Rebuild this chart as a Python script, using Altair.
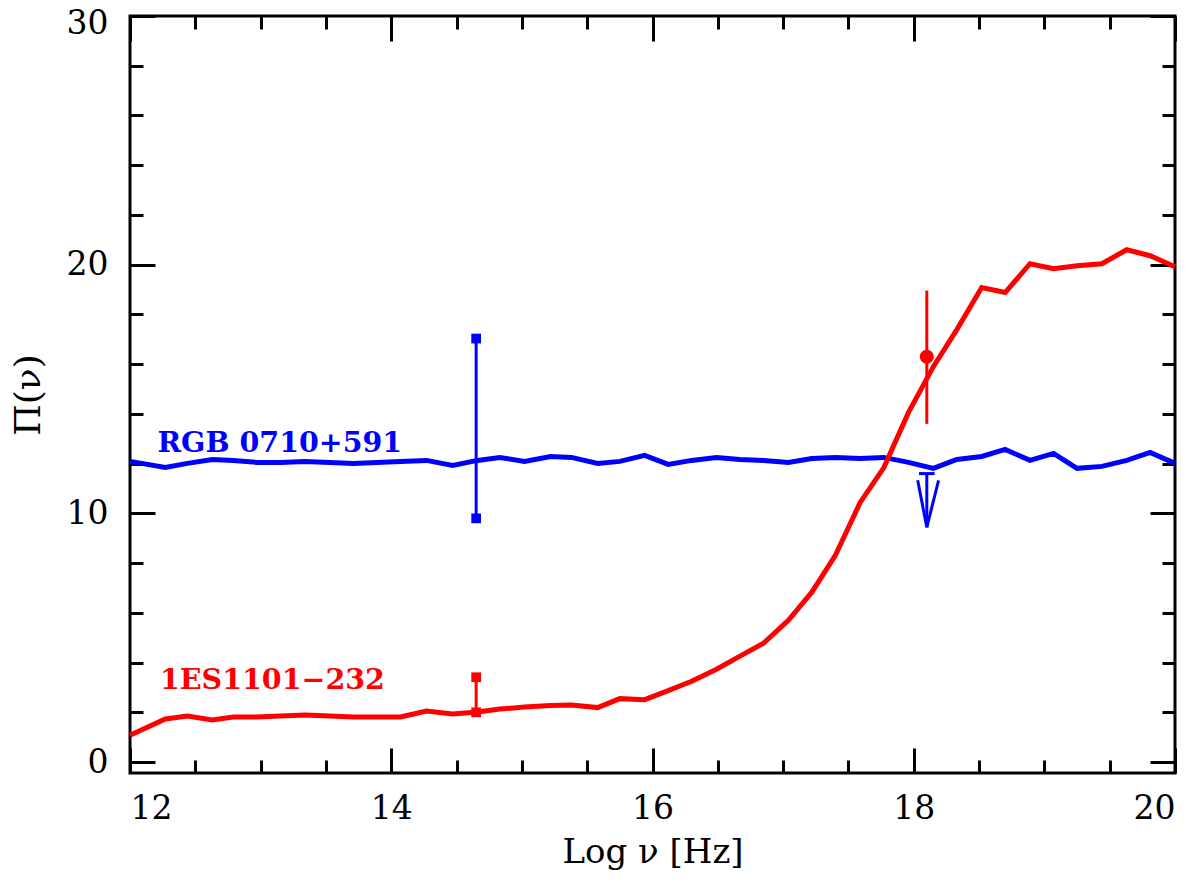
import altair as alt
import pandas as pd

# frequency grid (log nu)
log_nu = [12.00, 12.27, 12.44, 12.63, 12.79, 12.97, 13.15, 13.34, 13.53, 13.71,
          13.89, 14.07, 14.27, 14.47, 14.66, 14.83, 15.02, 15.22, 15.38, 15.58,
          15.75, 15.94, 16.12, 16.30, 16.49, 16.67, 16.85, 17.04, 17.22, 17.40,
          17.59, 17.77, 17.96, 18.15, 18.33, 18.52, 18.70, 18.89, 19.07, 19.25,
          19.44, 19.63, 19.81, 20.00]

# RGB 0710+591 polarization
pi_rgb = [12.09, 11.85, 12.01, 12.17, 12.13, 12.05, 12.05, 12.09, 12.05, 12.01,
          12.05, 12.09, 12.13, 11.93, 12.13, 12.25, 12.09, 12.29, 12.25, 12.01,
          12.09, 12.33, 11.97, 12.13, 12.25, 12.17, 12.13, 12.05, 12.21, 12.25,
          12.21, 12.25, 12.05, 11.81, 12.17, 12.29, 12.57, 12.13, 12.41, 11.81,
          11.89, 12.13, 12.45, 12.01]

# 1ES1101-232 polarization
pi_1es = [1.08, 1.73, 1.85, 1.69, 1.81, 1.81, 1.85, 1.89, 1.85, 1.81,
          1.81, 1.81, 2.05, 1.93, 2.01, 2.13, 2.21, 2.27, 2.29, 2.19,
          2.55, 2.51, 2.87, 3.25, 3.73, 4.26, 4.78, 5.70, 6.83, 8.31,
          10.44, 11.83, 14.06, 15.90, 17.39, 19.08, 18.88, 20.04, 19.84, 19.96,
          20.04, 20.60, 20.36, 19.92]

# optical observed ranges (square-capped bars)
opt_x = [14.65, 14.65]
opt_lo = [9.8, 2.0]
opt_hi = [17.03, 3.41]
opt_src = ["RGB 0710+591", "1ES1101-232"]

# X-ray measurement of 1ES1101-232
xr_x = [18.1]
xr_y = [16.3]
xr_lo = [13.6]
xr_hi = [18.96]

# X-ray upper limit of RGB 0710+591 (bar, shaft and open arrow head)
ul_x = [18.04, 18.10, 18.03, 18.19]
ul_x2 = [18.16, 18.10, 18.10, 18.10]
ul_y = [11.60, 11.60, 11.33, 11.33]
ul_y2 = [11.60, 9.44, 9.44, 9.44]

labels = ["RGB 0710+591", "1ES1101\u2212232"]
label_x = [12.21, 12.23]
label_y = [12.45, 2.93]
label_src = ["RGB 0710+591", "1ES1101-232"]

BLUE = "#0000ff"
RED = "#ff0000"
FONT = "DejaVu Serif"
W, H = 1045, 757

x_minor = [12 + 0.5 * i for i in range(17)]
y_minor = [2 * i for i in range(16)]

xs = alt.Scale(domain=[12, 20], nice=False, zero=False)
ys = alt.Scale(domain=[-0.44, 30], nice=False, zero=False)

x_major_len = {"condition": {"test": "datum.value % 2 === 0", "value": 25}, "value": 13}
y_major_len = {"condition": {"test": "datum.value % 10 === 0", "value": 25}, "value": 13}

tick_style = dict(labels=False, domain=False, grid=False, title=None,
                  tickWidth=3, tickColor="black")

ax_x_lab = alt.Axis(orient="bottom", values=[12, 14, 16, 18, 20], ticks=False,
                    domain=False, grid=False, format="d",
                    labelFont=FONT, labelFontSize=33, labelColor="black", labelPadding=19,
                    title="Log \u03bd [Hz]", titleFont=FONT, titleFontSize=34,
                    titleFontWeight="normal", titleColor="black", titlePadding=10)
ax_x_bot = alt.Axis(orient="top", offset=-H, values=x_minor, tickSize=x_major_len, **tick_style)
ax_x_top = alt.Axis(orient="bottom", offset=-H, values=x_minor, tickSize=x_major_len, **tick_style)

ax_y_lab = alt.Axis(orient="left", values=[0, 10, 20, 30], ticks=False,
                    domain=False, grid=False, format="d",
                    labelFont=FONT, labelFontSize=33, labelColor="black", labelPadding=22,
                    labelOffset={"condition": {"test": "datum.value === 30", "value": 7}, "value": 0},
                    title="\u03a0(\u03bd)", titleFont=FONT, titleFontSize=36,
                    titleFontWeight="normal", titleColor="black", titlePadding=19)
ax_y_left = alt.Axis(orient="right", offset=-W, values=y_minor, tickSize=y_major_len, **tick_style)
ax_y_right = alt.Axis(orient="left", offset=-W, values=y_minor, tickSize=y_major_len, **tick_style)

curves = pd.DataFrame({"log_nu": log_nu, "rgb": pi_rgb, "es": pi_1es})
opt = pd.DataFrame({"x": opt_x, "lo": opt_lo, "hi": opt_hi, "src": opt_src})
xr = pd.DataFrame({"x": xr_x, "y": xr_y, "lo": xr_lo, "hi": xr_hi})
ul = pd.DataFrame({"x": ul_x, "x2": ul_x2, "y": ul_y, "y2": ul_y2})
lab = pd.DataFrame({"text": labels, "x": label_x, "y": label_y, "src": label_src})

src_color = alt.Color("src:N", scale=alt.Scale(domain=["RGB 0710+591", "1ES1101-232"],
                                               range=[BLUE, RED]), legend=None)

blue_line = alt.Chart(curves).mark_line(color=BLUE, strokeWidth=5).encode(
    x=alt.X("log_nu:Q", scale=xs, axis=ax_x_lab),
    y=alt.Y("rgb:Q", scale=ys, axis=ax_y_lab),
)

red_line = alt.Chart(curves).mark_line(color=RED, strokeWidth=5).encode(
    x=alt.X("log_nu:Q", scale=xs, axis=ax_x_bot),
    y=alt.Y("es:Q", scale=ys, axis=ax_y_left),
)

opt_bar = alt.Chart(opt).mark_rule(strokeWidth=3).encode(
    x=alt.X("x:Q", scale=xs, axis=ax_x_top),
    y=alt.Y("lo:Q", scale=ys, axis=ax_y_right),
    y2="hi:Q",
    color=src_color,
)
opt_lo_sq = alt.Chart(opt).mark_square(size=95, opacity=1).encode(
    x=alt.X("x:Q", scale=xs, axis=None),
    y=alt.Y("lo:Q", scale=ys, axis=None),
    color=src_color,
)
opt_hi_sq = alt.Chart(opt).mark_square(size=95, opacity=1).encode(
    x=alt.X("x:Q", scale=xs, axis=None),
    y=alt.Y("hi:Q", scale=ys, axis=None),
    color=src_color,
)

xr_bar = alt.Chart(xr).mark_rule(color=RED, strokeWidth=3).encode(
    x=alt.X("x:Q", scale=xs, axis=None),
    y=alt.Y("lo:Q", scale=ys, axis=None),
    y2="hi:Q",
)
xr_pt = alt.Chart(xr).mark_circle(color=RED, size=200, opacity=1).encode(
    x=alt.X("x:Q", scale=xs, axis=None),
    y=alt.Y("y:Q", scale=ys, axis=None),
)

ul_arrow = alt.Chart(ul).mark_rule(color=BLUE, strokeWidth=3).encode(
    x=alt.X("x:Q", scale=xs, axis=None),
    x2="x2:Q",
    y=alt.Y("y:Q", scale=ys, axis=None),
    y2="y2:Q",
)

text = alt.Chart(lab).mark_text(font=FONT, fontSize=28.5, fontWeight="bold",
                                align="left", baseline="alphabetic").encode(
    x=alt.X("x:Q", scale=xs, axis=None),
    y=alt.Y("y:Q", scale=ys, axis=None),
    text="text:N",
    color=src_color,
)

chart = (
    alt.layer(blue_line, red_line, opt_bar, opt_lo_sq, opt_hi_sq,
              xr_bar, xr_pt, ul_arrow, text)
    .resolve_axis(x="independent", y="independent")
    .properties(width=W, height=H,
                padding={"left": 122, "top": 8, "right": 17, "bottom": 98},
                autosize=alt.AutoSizeParams(type="none"))
    .configure_view(stroke="black", strokeWidth=3)
)

chart.save("out.html", embed_options={"renderer": "svg", "actions": False})
